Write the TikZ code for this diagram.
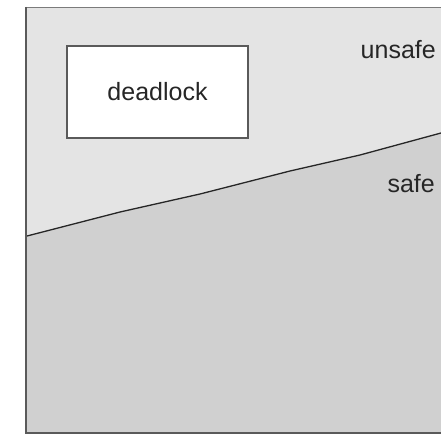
\documentclass[tikz,border=0pt]{standalone}
\usepackage{fontspec}
\setmainfont{Liberation Sans}
\definecolor{unsafegray}{HTML}{E4E4E4}
\definecolor{safegray}{HTML}{D0D0D0}
\definecolor{framegray}{HTML}{5A5A5A}
\begin{document}
\begin{tikzpicture}[x=1pt,y=-1pt,
  lbl/.style={inner sep=0pt,font=\fontsize{25}{25}\selectfont,text=black!85},
  boxstyle/.style={draw=framegray,line width=1.4pt,fill=white,minimum width=181pt,minimum height=92pt,inner sep=0pt,font=\fontsize{25}{25}\selectfont,text=black!85}]
\useasboundingbox (0,0) rectangle (441,436);
\fill[white] (0,0) rectangle (441,436);
% regions
\coordinate (L) at (27,236);
\coordinate (R) at (441,133);
\fill[unsafegray] (27,8) rectangle (441,433);
\fill[safegray] (L) -- (120,212) -- (200,194) -- (290,171) -- (360,155) -- (R) -- (441,433) -- (27,433) -- cycle;
\draw[line width=1.3pt,black!85,line join=round] (L) -- (120,212) -- (200,194) -- (290,171) -- (360,155) -- (R);
% frame
\draw[framegray!80,line width=1pt] (26,8) -- (441,8);
\draw[framegray,line width=2pt] (26,7) -- (26,434);
\draw[framegray,line width=1.6pt] (26,433) -- (441,433);
% box
\node[boxstyle] (dl) at (157.5,92) {deadlock};
\node[lbl,anchor=east] (us) at (436,50) {unsafe};
\node[lbl,anchor=east] (sf) at (435,184) {safe};
\end{tikzpicture}
\end{document}
